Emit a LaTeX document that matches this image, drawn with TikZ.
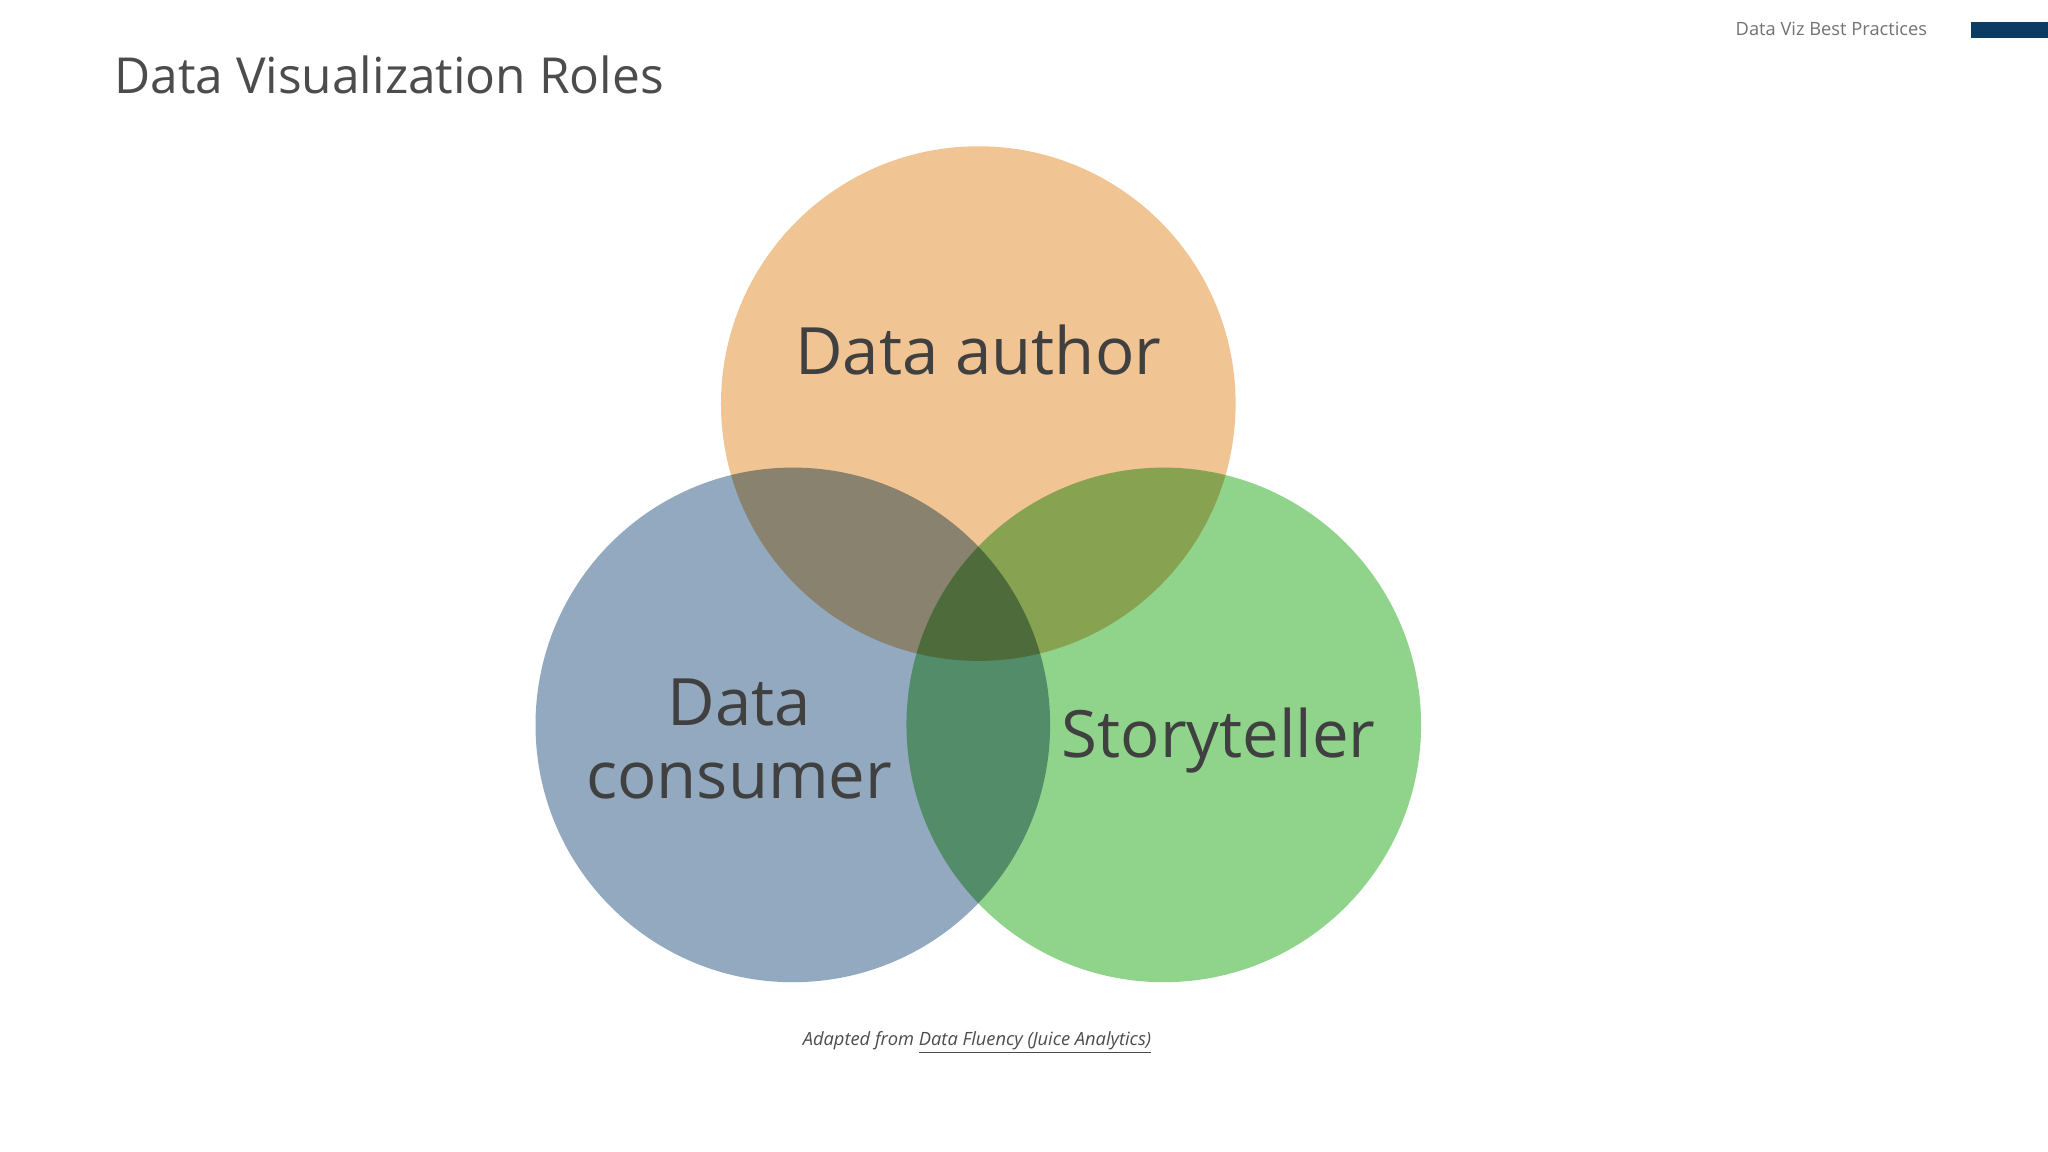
\documentclass[tikz,border=0pt]{standalone}
\usepackage{fontspec}
\setmainfont{Open Sans}
\begin{document}
\begin{tikzpicture}[x=1pt,y=-1pt,
  lbl/.style={text=black!75,font=\fontsize{50}{56}\selectfont,align=center},
  venn/.style={blend mode=multiply,fill opacity=0.85}]
\useasboundingbox (0,0) rectangle (1568,882);
\fill[white] (0,0) rectangle (1568,882);
\definecolor{orangeC}{RGB}{239,186,130}
\definecolor{blueC}{RGB}{128,155,182}
\definecolor{greenC}{RGB}{125,205,120}
\definecolor{barC}{RGB}{12,60,100}
\node[anchor=west,text=black!70,font=\fontsize{38}{44}\selectfont] (title) at (84,57) {Data Visualization Roles};
\node[anchor=east,text=black!55,font=\fontsize{14}{16}\selectfont] (hdr) at (1479,22) {Data Viz Best Practices};
\fill[barC] (1509,17) rectangle (1568,29);
\begin{scope}[transparency group]
\fill[orangeC,venn] (749,309) circle (197);
\fill[blueC,venn] (607,555) circle (197);
\fill[greenC,venn] (891,555) circle (197);
\end{scope}
\node[lbl] (author) at (749,268) {Data author};
\node[lbl] (consumer) at (566,566) {Data\\consumer};
\node[lbl] (story) at (933,567) {Storyteller};
\node[text=black!70,font=\fontsize{14}{16}\selectfont\itshape] (cap) at (748,798) {Adapted from \underline{Data Fluency (Juice Analytics)}};
\end{tikzpicture}
\end{document}
